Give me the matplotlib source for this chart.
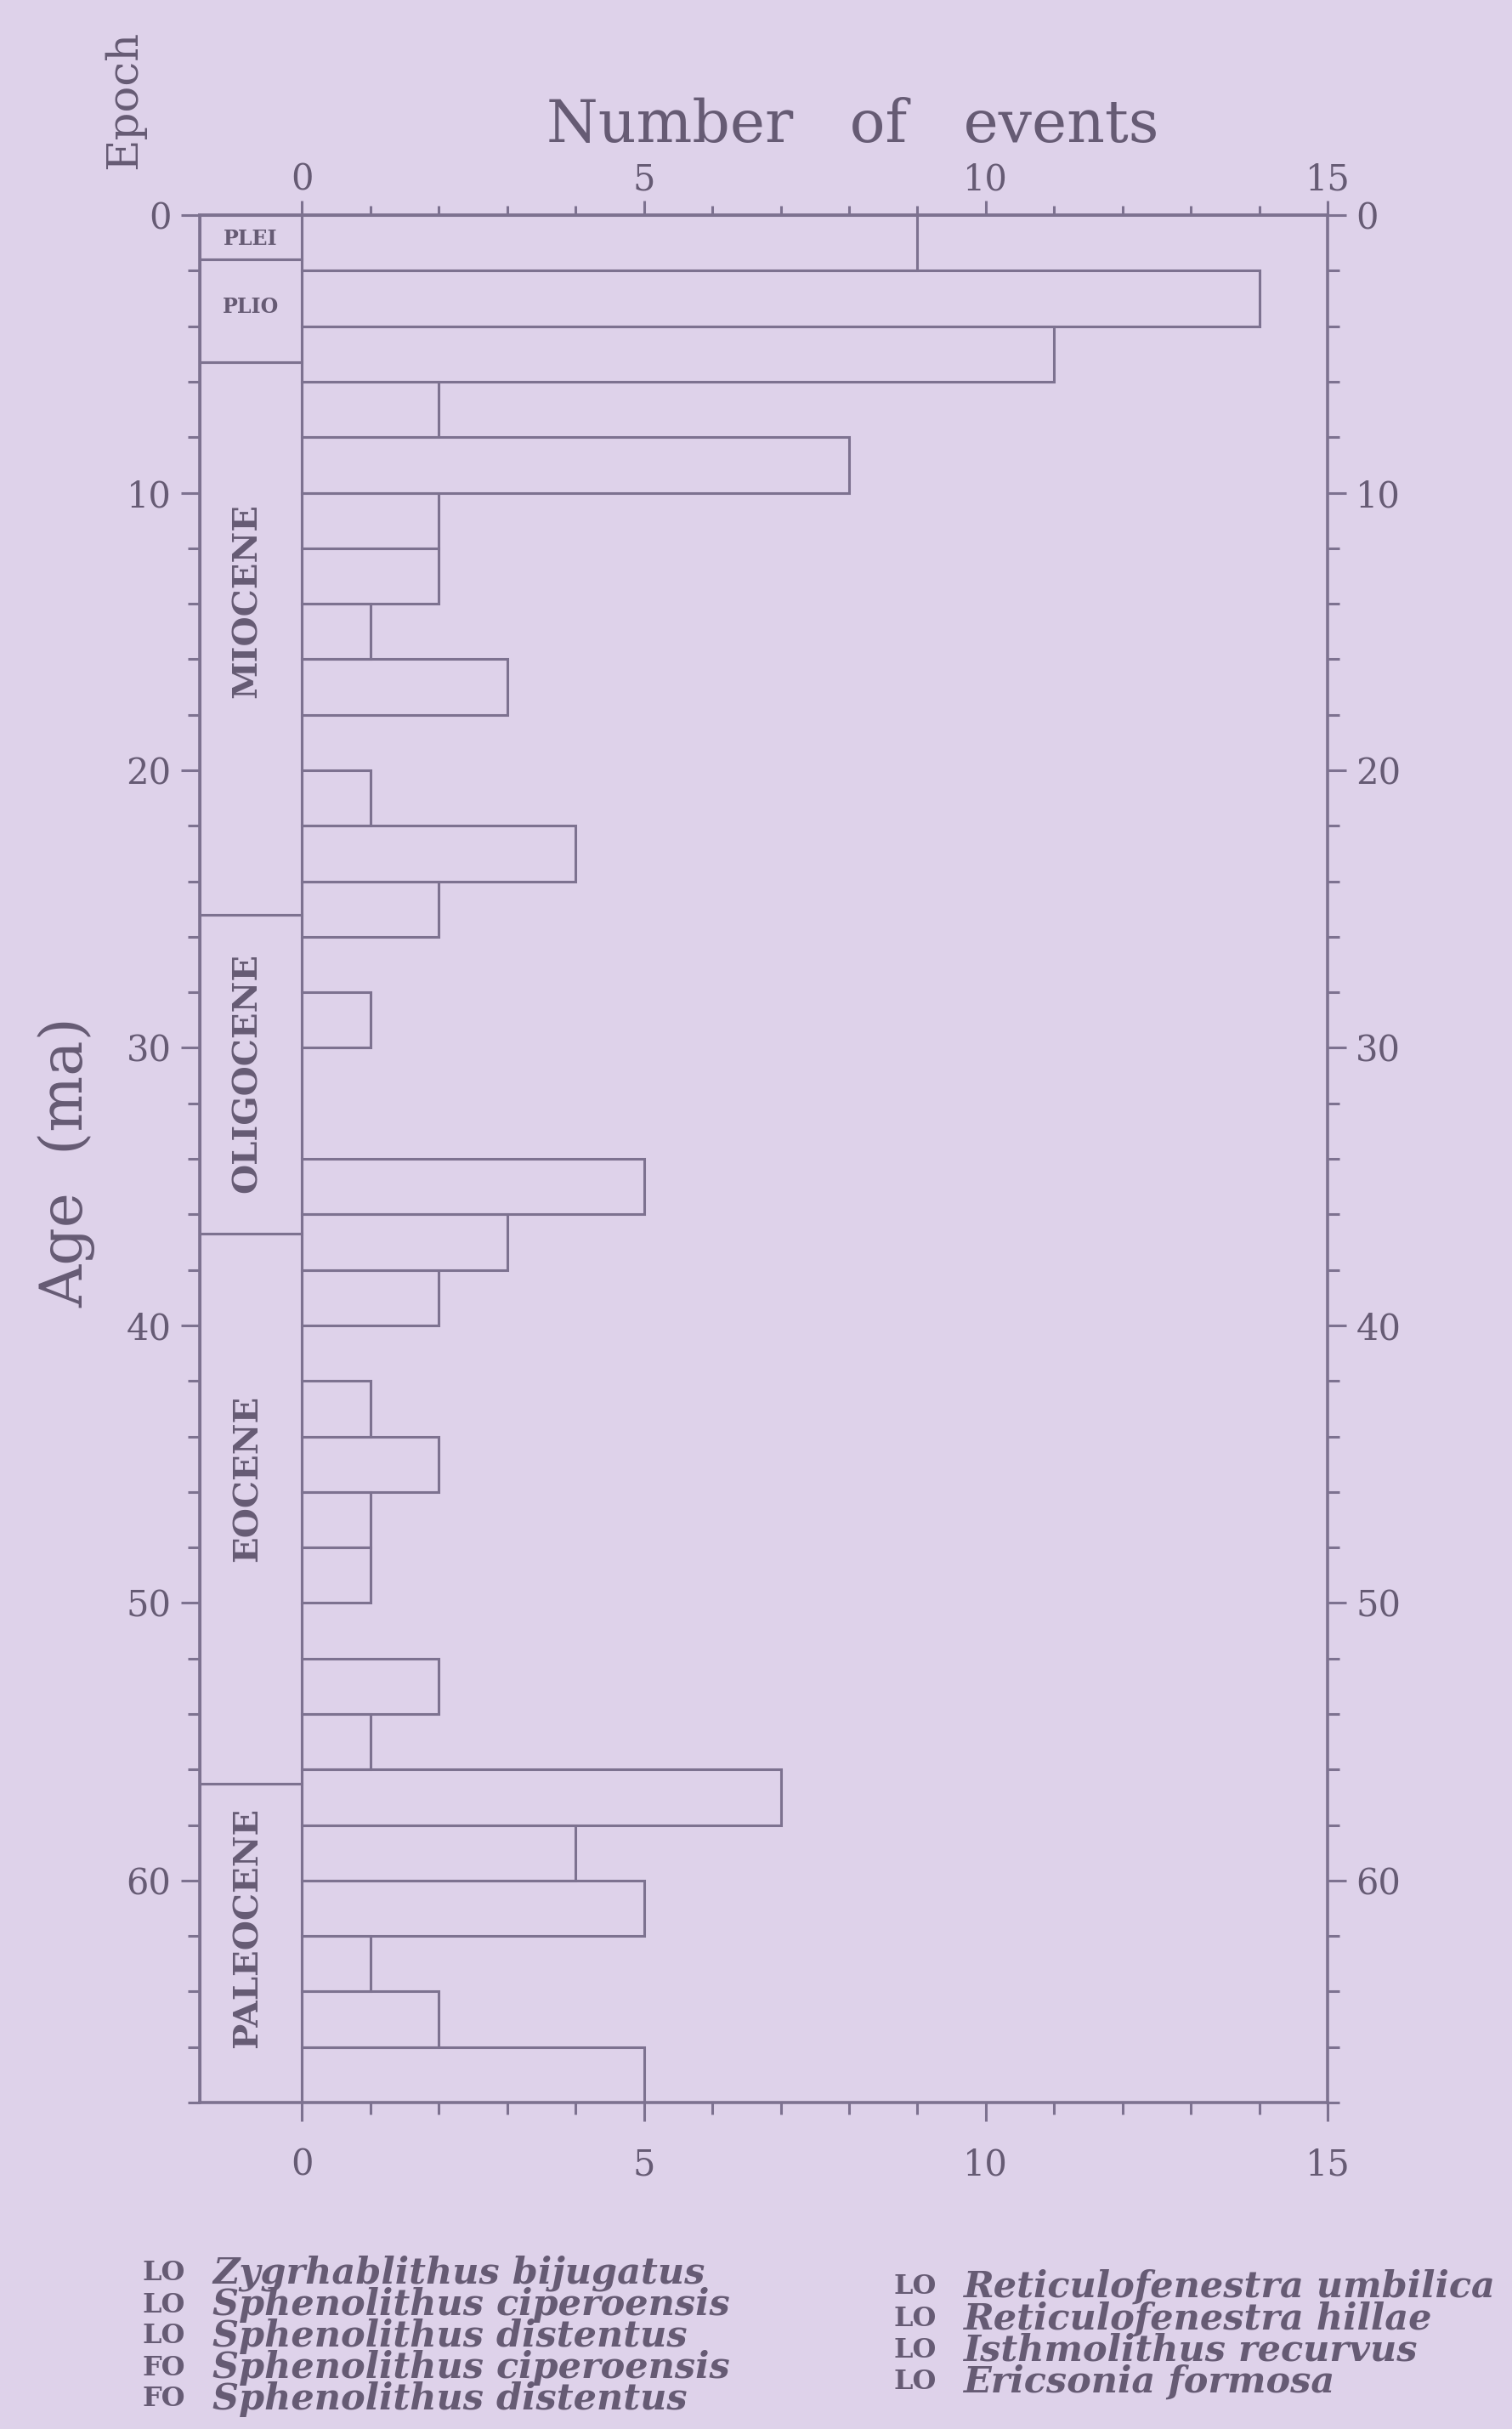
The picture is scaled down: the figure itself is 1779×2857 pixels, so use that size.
import numpy as np
import matplotlib.pyplot as plt
from matplotlib.ticker import MultipleLocator, FixedLocator

# number of events per 2 m.y. bin, 0-68 Ma
bin_top = np.arange(0, 68, 2)
events = [9, 14, 11, 2, 8, 2, 2, 1, 3, 0,
          1, 4, 2, 0, 1, 0, 0, 5, 3, 2,
          0, 1, 2, 1, 1, 0, 2, 1, 7, 4,
          5, 1, 2, 5]

# epochs (Ma)
epoch_names = ['PLEI', 'PLIO', 'MIOCENE', 'OLIGOCENE', 'EOCENE', 'PALEOCENE']
epoch_top = [0, 1.6, 5.3, 25.2, 36.7, 56.5]
epoch_base = [1.6, 5.3, 25.2, 36.7, 56.5, 68]
label_age = [0.85, 3.3, 13.9, 30.9, 45.5, 61.7]

# datum list below the chart
left_codes = ['LO', 'LO', 'LO', 'FO', 'FO']
left_taxa = ['Zygrhablithus bijugatus', 'Sphenolithus ciperoensis',
             'Sphenolithus distentus', 'Sphenolithus ciperoensis',
             'Sphenolithus distentus']
right_codes = ['LO', 'LO', 'LO', 'LO']
right_taxa = ['Reticulofenestra umbilica', 'Reticulofenestra hillae',
              'Isthmolithus recurvus', 'Ericsonia formosa']

bg = '#ded2ea'
lc = '#7d7290'
tc = '#665b74'
serif = 'DejaVu Serif'

fig = plt.figure(figsize=(17.79, 28.57), dpi=100, facecolor=bg)
ax = fig.add_axes([0.132, 0.1344, 0.746, 0.777])
ax.set_facecolor(bg)

lw = 2.2
ax.barh(bin_top, events, height=2, left=0, align='edge',
        fill=False, edgecolor=lc, linewidth=lw)

ep_h = np.array(epoch_base) - np.array(epoch_top)
ax.barh(epoch_top, 1.5, height=ep_h, left=-1.5, align='edge',
        fill=False, edgecolor=lc, linewidth=lw)

for name, age in zip(epoch_names, label_age):
    if len(name) == 4:
        ax.text(-0.75, age, name, ha='center', va='center', fontsize=17,
                fontweight='bold', family=serif, color=tc)
    else:
        ax.text(-0.8, age, name, ha='center', va='center', fontsize=29,
                fontweight='bold', family=serif, color=tc, rotation=90)

ax.set_xlim(-1.5, 15)
ax.set_ylim(68, 0)

for s in ax.spines.values():
    s.set_color(lc)
    s.set_linewidth(2.6)

major_x = [0, 5, 10, 15]
minor_x = [i for i in range(16) if i % 5]

ax.xaxis.set_major_locator(FixedLocator(major_x))
ax.xaxis.set_minor_locator(FixedLocator(minor_x))
ax.yaxis.set_major_locator(MultipleLocator(10))
ax.yaxis.set_minor_locator(MultipleLocator(2))

ax.tick_params(which='both', direction='out', color=lc, width=2.2,
               top=False, bottom=True, left=True, right=True,
               labeltop=False, labelbottom=True, labelleft=True, labelright=True,
               labelcolor=tc, labelsize=30)
ax.tick_params(which='major', length=16)
ax.tick_params(which='minor', length=10)
ax.tick_params(axis='x', which='major', pad=22)
ax.tick_params(axis='y', which='major', pad=8)
for lab in ax.get_xticklabels() + ax.get_yticklabels():
    lab.set_family(serif)

# top scale
top = ax.secondary_xaxis('top')
top.set_xticks(major_x)
top.xaxis.set_minor_locator(FixedLocator(minor_x))
top.spines['top'].set_color(lc)
top.spines['top'].set_linewidth(2.6)
top.tick_params(which='both', direction='out', color=lc, width=2.2,
                labelcolor=tc, labelsize=30)
top.tick_params(which='major', length=12, pad=3)
top.tick_params(which='minor', length=8)
for lab in top.get_xticklabels():
    lab.set_family(serif)

ax.text(0.579, 1.039, 'Number   of   events', transform=ax.transAxes,
        ha='center', va='baseline', fontsize=50, family=serif, color=tc)
ax.set_ylabel('Age  (ma)', fontsize=50, family=serif, color=tc)
ax.yaxis.set_label_coords(-0.092, 0.498)
ax.text(-0.067, 1.061, 'Epoch', transform=ax.transAxes, rotation=90,
        ha='center', va='center', fontsize=37, family=serif, color=tc)

H = 2857.0
for i, (c, t) in enumerate(zip(left_codes, left_taxa)):
    y = 1 - (2674 + 37 * i) / H
    fig.text(0.0944, y, c, fontsize=23, family=serif, fontweight='bold',
             color=tc, va='center')
    fig.text(0.1405, y, t, fontsize=31, family=serif, style='italic',
             fontweight='bold', color=tc, va='center')
for i, (c, t) in enumerate(zip(right_codes, right_taxa)):
    y = 1 - (2690 + 37.3 * i) / H
    fig.text(0.591, y, c, fontsize=23, family=serif, fontweight='bold',
             color=tc, va='center')
    fig.text(0.637, y, t, fontsize=31, family=serif, style='italic',
             fontweight='bold', color=tc, va='center')

fig.savefig('out.png', dpi=100, facecolor=bg)
